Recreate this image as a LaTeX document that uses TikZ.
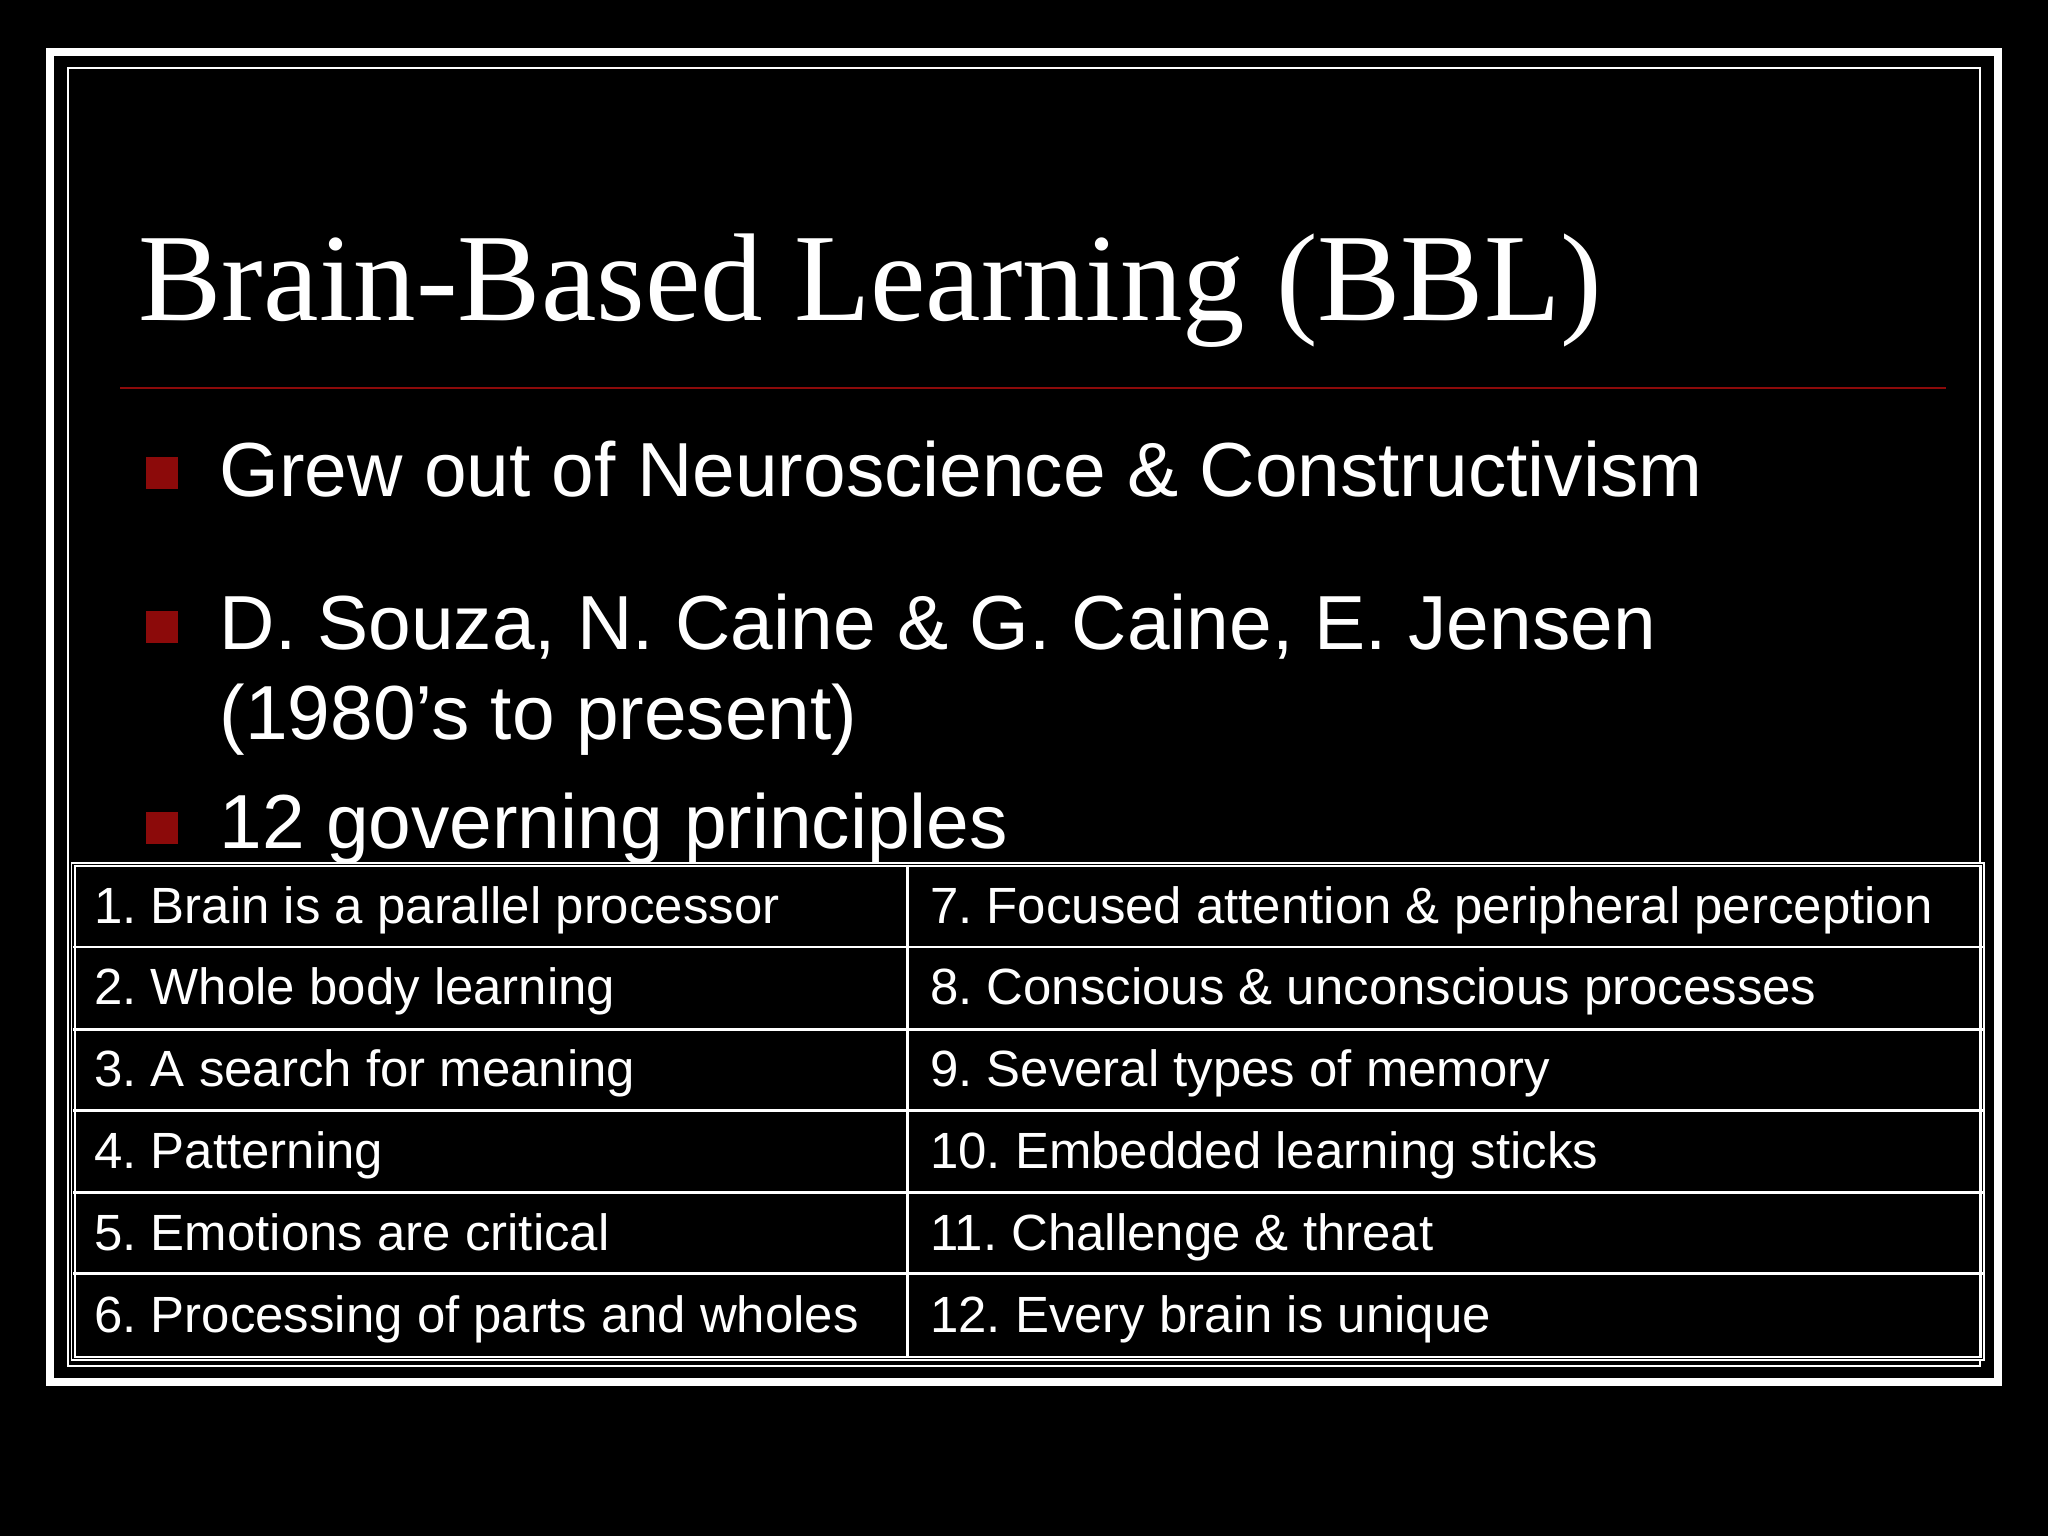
\documentclass[tikz,border=0pt]{standalone}
\usepackage{fontspec}
\setmainfont{Liberation Sans}
\newfontfamily\titlefont{Liberation Serif}
\definecolor{bred}{RGB}{140,10,10}
\frenchspacing
\begin{document}
\begin{tikzpicture}[x=1pt,y=-1pt,
  btxt/.style={anchor=base west,text=white,font=\fontsize{58.7}{66}\selectfont,inner sep=0},
  bul/.style={fill=bred,minimum size=24pt,inner sep=0},
  cell/.style={anchor=base west,text=white,font=\fontsize{39}{44}\selectfont,inner sep=0}]
\fill[black] (0,0) rectangle (1568,1176);
\useasboundingbox (0,0) rectangle (1568,1176);
\draw[white,line width=6] (38,40) rectangle (1530,1058);
\draw[white,line width=1.5] (52,52) rectangle (1516,1046);
\node[anchor=base west,text=white,inner sep=0,font=\titlefont\fontsize{95.6}{105}\selectfont] (title) at (106,245) {Brain-Based Learning (BBL)};
\draw[bred,line width=2] (92,297) -- (1490,297);
\node[bul] (b1) at (124,362) {};
\node[btxt] (t1) at (168,380) {Grew out of Neuroscience \& Constructivism};
\node[bul] (b2) at (124,480) {};
\node[btxt] (t2) at (168,497) {D. Souza, N. Caine \& G. Caine, E. Jensen};
\node[btxt] (t2b) at (168,566) {(1980’s to present)};
\node[bul] (b3) at (124,634) {};
\node[btxt] (t3) at (168,650) {12 governing principles};
% table
\draw[white,line width=4] (56,662) rectangle (1518,1040);
\draw[black,line width=1] (56,662) rectangle (1518,1040);
\foreach \y in {725,788,850,913,975} \draw[white,line width=2] (56,\y) -- (1518,\y);
\draw[white,line width=2] (695,662) -- (695,1040);
\foreach \t [count=\i] in {1. Brain is a parallel processor,2. Whole body learning,3. A search for meaning,4. Patterning,5. Emotions are critical,6. Processing of parts and wholes}
  \node[cell] (l\i) at (72,{662+62.7*\i-18}) {\t};
\foreach \t [count=\i] in {7. Focused attention \& peripheral perception,8. Conscious \& unconscious processes,9. Several types of memory,10. Embedded learning sticks,11. Challenge \& threat,12. Every brain is unique}
  \node[cell] (r\i) at (712,{662+62.7*\i-18}) {\t};
\end{tikzpicture}
\end{document}
